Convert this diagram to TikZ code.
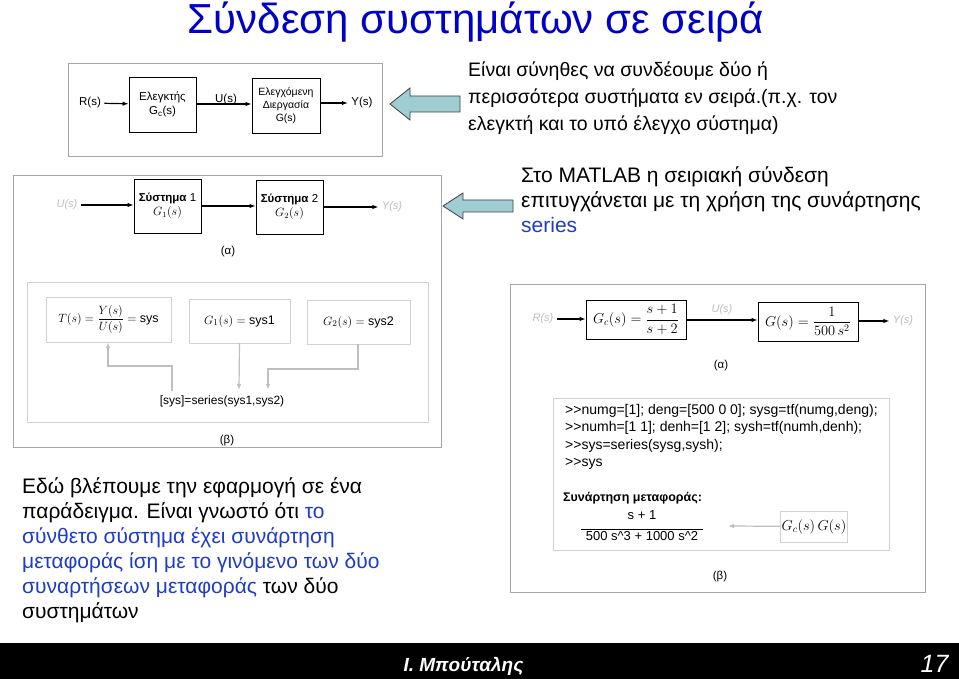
\documentclass[tikz,border=0pt]{standalone}
\usepackage{fontspec}
\setmainfont{Liberation Sans}
\usetikzlibrary{arrows.meta}
\definecolor{ttl}{RGB}{0,0,200}
\definecolor{blu}{RGB}{30,60,200}
\definecolor{arr}{RGB}{160,205,210}
\definecolor{lg}{RGB}{190,190,190}
\begin{document}
\begin{tikzpicture}[x=1pt,y=-1pt,
  frame/.style={draw=gray!70,line width=0.8pt},
  blk/.style={draw,line width=0.8pt,align=center},
  sig/.style={-{Latex[length=6pt]},line width=1.2pt},
  gsig/.style={-{Latex[length=6pt]},line width=1.2pt,draw=lg},
  body/.style={font=\fontsize{21}{25}\selectfont,anchor=north west,align=left,inner sep=0},
  bigarr/.style={draw=black!75,fill=arr,line width=0.8pt},
  sm/.style={font=\fontsize{11.5}{13.5}\selectfont},
  mth/.style={font=\fontsize{14}{16}\selectfont},
  pale/.style={font=\fontsize{11}{13}\selectfont\itshape,text=lg}]
\useasboundingbox (0,0) rectangle (959,679);
\fill[white] (0,0) rectangle (959,679);
% title
\node[text=ttl,font=\fontsize{42}{46}\selectfont,anchor=base,inner sep=0] (title) at (476,34) {Σύνδεση συστημάτων σε σειρά};
% top-left picture
\draw[frame] (68,63) rectangle (382,156);
\node[sm] (r1) at (90,103) {R(s)};
\node[blk,sm,minimum width=67pt,minimum height=55pt] (c1) at (162.5,104.5) {Ελεγκτής\\G$_\mathrm{c}$(s)};
\node[blk,sm,minimum width=68pt,minimum height=55pt,font=\fontsize{10.5}{13}\selectfont,inner sep=1pt] (p1) at (286,105.5) {Ελεγχόμενη\\Διεργασία\\G(s)};
\node[sm] (y1) at (362,103) {Y(s)};
\node[sm] (u1) at (226,100) {U(s)};
\draw[sig] (r1) -- (c1);
\draw[sig] (c1.east|-0,104) -- (p1.west|-0,104);
\draw[sig] (p1.east|-0,103) -- (y1);
\path[bigarr] (390,104) -- (410,88) -- (410,96) -- (460,96) -- (460,112) -- (410,112) -- (410,120) -- cycle;
\node[body,font=\fontsize{19.5}{27}\selectfont] (t1) at (468,62) {Είναι σύνηθες να συνδέουμε δύο ή\\περισσότερα συστήματα εν σειρά.(π.χ. τον\\ελεγκτή και το υπό έλεγχο σύστημα)};
% second picture
\draw[frame] (13,175) rectangle (441,447);
\node[pale] (u2) at (67,205) {U(s)};
\node[blk,sm,minimum width=67pt,minimum height=54pt] (s1) at (167.5,206) {\textbf{Σύστημα} 1\\$G_1(s)$};
\node[blk,sm,minimum width=67pt,minimum height=54pt] (s2) at (289.5,207) {\textbf{Σύστημα} 2\\$G_2(s)$};
\node[pale] (y2) at (392,207) {Y(s)};
\draw[sig] (u2) -- (s1.west|-u2);
\draw[sig] (s1.east|-0,206) -- (s2.west|-0,206);
\draw[sig] (s2.east|-0,207) -- (y2);
\node[sm] (la) at (228,252) {(α)};
\draw[draw=lg!70] (27,282) rectangle (428,422);
\node[draw=lg!70,minimum width=125pt,minimum height=45pt,font=\fontsize{12.5}{14}\selectfont] (b1) at (108.5,319.5) {$T(s)=\displaystyle\frac{Y(s)}{U(s)}=\mathrm{sys}$};
\node[draw=lg!70,minimum width=101pt,minimum height=44pt,font=\fontsize{12.5}{14}\selectfont] (b2) at (239.5,321) {$G_1(s)=\mathrm{sys1}$};
\node[draw=lg!70,minimum width=103pt,minimum height=44pt,font=\fontsize{12.5}{14}\selectfont] (b3) at (358.5,322) {$G_2(s)=\mathrm{sys2}$};
\node[font=\fontsize{12}{14}\selectfont] (ser) at (222,401) {[sys]=series(sys1,sys2)};
\coordinate (k1) at (172,391);
\draw[gsig] (k1) |- (108,366) -- (b1.south-|108,0);
\draw[gsig] (b2.south) -- (239,390);
\draw[gsig] (b3.south-|358,0) |- (268,369) -- (268,390);
\node[sm] (lb) at (227,441) {(β)};
\path[bigarr] (443,206) -- (463,193) -- (463,200) -- (513,200) -- (513,212) -- (463,212) -- (463,219) -- cycle;
\node[body] (t2) at (521,166) {Στο MATLAB η σειριακή σύνδεση\\επιτυγχάνεται με τη χρήση της συνάρτησης\\\textcolor{blu}{series}};
% right picture
\draw[frame] (510,284) rectangle (925,592);
\node[pale] (r3) at (543,319) {R(s)};
\node[blk,mth,minimum width=100pt,minimum height=39pt,inner sep=1pt] (gc) at (636,319.5) {$G_c(s)=\displaystyle\frac{s+1}{s+2}$};
\node[blk,mth,minimum width=100pt,minimum height=39pt,inner sep=1pt] (gg) at (808,321.5) {$G(s)=\displaystyle\frac{1}{500\,s^2}$};
\node[pale] (u3) at (722,310) {U(s)};
\node[pale] (y3) at (903,321) {Y(s)};
\draw[sig,line width=1.5pt] (r3) -- (gc.west|-r3);
\draw[sig,line width=1.5pt] (gc.east|-0,320) -- (gg.west|-0,320);
\draw[sig,line width=1.5pt] (gg.east|-y3) -- (y3);
\node[sm] (la3) at (721,366) {(α)};
\draw[draw=lg!70] (553,398) rectangle (889,550);
\node[anchor=north west,align=left,inner sep=0,font=\fontsize{14}{17.5}\selectfont] (code) at (565,404) {>{}>numg=[1]; deng=[500 0 0]; sysg=tf(numg,deng);\\>{}>numh=[1 1]; denh=[1 2]; sysh=tf(numh,denh);\\>{}>sys=series(sysg,sysh);\\>{}>sys};
\node[anchor=west,inner sep=0,font=\fontsize{12.5}{14}\selectfont\bfseries] (sm1) at (563,498) {Συνάρτηση μεταφοράς:};
\node[font=\fontsize{13}{14}\selectfont,align=center,inner sep=1pt] (fr) at (642,526) {s + 1\\[-4pt]\rule{122pt}{0.8pt}\\[-3pt]500 s\^{}3 + 1000 s\^{}2};
\node[draw=lg!70,mth,minimum width=66pt,minimum height=31pt,inner sep=1pt] (gcg) at (814,526.5) {$G_c(s)\,G(s)$};
\draw[gsig] (gcg) -- (728,526);
\node[sm] (lb3) at (720,577) {(β)};
% bottom-left text
\node[body] (t3) at (22,477) {Εδώ βλέπουμε την εφαρμογή σε ένα\\παράδειγμα. Είναι γνωστό ότι \textcolor{blu}{το}\\\textcolor{blu}{σύνθετο σύστημα έχει συνάρτηση}\\\textcolor{blu}{μεταφοράς ίση με το γινόμενο των δύο}\\\textcolor{blu}{συναρτήσεων μεταφοράς} των δύο\\συστημάτων};
% footer
\fill[black] (0,643) rectangle (959,679);
\node[text=white,font=\fontsize{19}{21}\selectfont\bfseries\itshape,anchor=west] (au) at (400,666) {Ι. Μπούταλης};
\node[text=white,font=\fontsize{25}{26}\selectfont\rmfamily\itshape,anchor=east] (pg) at (952,664) {17};
\end{tikzpicture}
\end{document}
